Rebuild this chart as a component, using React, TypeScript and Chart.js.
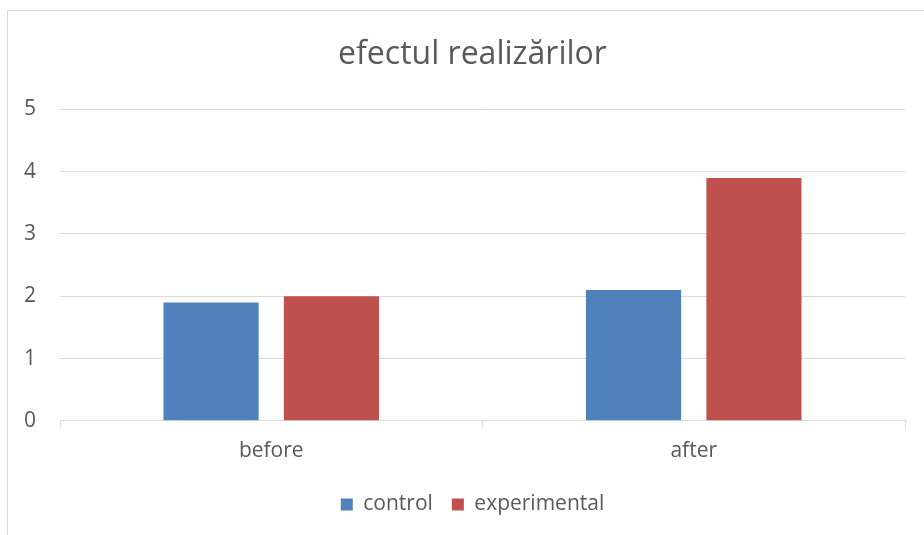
import React, { useEffect, useRef } from "react";
import { Chart, registerables } from "chart.js";

Chart.register(...registerables);

const categories = ["before", "after"];
const controlValues = [1.9, 2.1];
const experimentalValues = [2.0, 3.9];
const seriesNames = ["control", "experimental"];
const titleText = "efectul realizărilor";

const FONT = "'Open Sans', sans-serif";
const TEXT = "#595959";
const GRID = "#d9d9d9";

export default function App() {
  const ref = useRef<HTMLCanvasElement | null>(null);

  useEffect(() => {
    if (!ref.current) return;
    const chart = new Chart(ref.current, {
      type: "bar",
      data: {
        labels: categories,
        datasets: [
          {
            label: seriesNames[0],
            data: controlValues,
            backgroundColor: "#4f81bd",
            categoryPercentage: 0.57,
            barPercentage: 0.79,
          },
          {
            label: seriesNames[1],
            data: experimentalValues,
            backgroundColor: "#c0504d",
            categoryPercentage: 0.57,
            barPercentage: 0.79,
          },
        ],
      },
      options: {
        animation: false,
        responsive: true,
        maintainAspectRatio: false,
        layout: { padding: { left: 32, right: 19, top: 10, bottom: 10 } },
        plugins: {
          title: {
            display: true,
            text: titleText,
            color: TEXT,
            font: { family: FONT, size: 32, weight: "normal" },
            padding: { top: 15, bottom: 35 },
          },
          legend: {
            position: "bottom",
            labels: {
              color: TEXT,
              font: { family: FONT, size: 21 },
              boxWidth: 12,
              boxHeight: 12,
              padding: 19,
            },
          },
          tooltip: { enabled: false },
        },
        scales: {
          x: {
            grid: {
              offset: true,
              drawOnChartArea: false,
              drawTicks: true,
              tickLength: 7,
              color: GRID,
            },
            border: { display: true, color: GRID },
            ticks: { color: TEXT, font: { family: FONT, size: 21 }, padding: 11 },
          },
          y: {
            min: 0,
            max: 5,
            grid: { color: GRID, drawTicks: false },
            border: { display: false },
            ticks: {
              stepSize: 1,
              color: TEXT,
              font: { family: FONT, size: 21 },
              mirror: true,
              crossAlign: "far",
              padding: -36,
            },
            afterFit: (scale: any) => {
              scale.width = 20;
            },
          },
        },
      },
    });
    return () => chart.destroy();
  }, []);

  return (
    <div
      style={{
        position: "absolute",
        left: 7,
        top: 10,
        width: 917,
        height: 525,
        boxSizing: "border-box",
        borderLeft: "1px solid #d9d9d9",
        borderTop: "1px solid #d9d9d9",
        background: "#fff",
      }}
    >
      <canvas ref={ref} />
    </div>
  );
}
